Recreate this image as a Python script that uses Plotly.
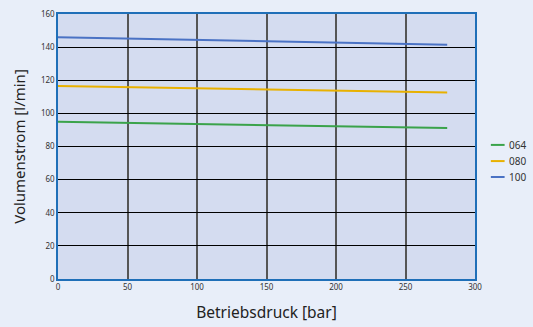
import plotly.graph_objects as go

pressure = [0, 50, 100, 150, 200, 250, 280]
flow_064 = [95.0, 94.3, 93.6, 92.9, 92.2, 91.5, 91.1]
flow_080 = [116.5, 115.8, 115.1, 114.4, 113.7, 113.0, 112.6]
flow_100 = [146.0, 145.2, 144.4, 143.6, 142.8, 142.0, 141.5]
series_names = ["064", "080", "100"]
colors = ["#3aa34a", "#e8b100", "#4a72c4"]

fig = go.Figure()
for name, ys, c in zip(series_names, [flow_064, flow_080, flow_100], colors):
    fig.add_trace(go.Scatter(x=pressure, y=ys, mode="lines", name=name,
                             line=dict(color=c, width=2), showlegend=False))

# custom compact legend
legend_y = [0.506, 0.445, 0.385]
for name, c, ly in zip(series_names, colors, legend_y):
    fig.add_shape(type="line", xref="paper", yref="paper",
                  x0=1.038, x1=1.071, y0=ly, y1=ly,
                  line=dict(color=c, width=2))
    fig.add_annotation(xref="paper", yref="paper", x=1.077, y=ly,
                       xanchor="left", yanchor="middle", text=name,
                       showarrow=False, font=dict(size=10, color="#333"))

fig.update_layout(
    width=533, height=327,
    margin=dict(l=58, r=58, t=14, b=48, autoexpand=False),
    paper_bgcolor="#e8eef9",
    plot_bgcolor="#d4dcf0",
    font=dict(family="Noto Sans, DejaVu Sans, sans-serif", color="#222"),
    showlegend=False,
)
fig.update_xaxes(
    range=[0, 300], tickvals=[0, 50, 100, 150, 200, 250, 300],
    showgrid=True, gridcolor="#555555", gridwidth=1.5,
    showline=True, linecolor="#1f6fb8", linewidth=1.5, mirror=True,
    zeroline=False, ticks="", tickfont=dict(size=8, color="#333"),
    title=dict(text="Betriebsdruck [bar]", font=dict(size=15.5, color="#222"), standoff=16),
)
fig.update_yaxes(
    range=[0, 160], tickvals=list(range(0, 161, 20)),
    showgrid=True, gridcolor="black", gridwidth=1,
    showline=True, linecolor="#1f6fb8", linewidth=1.5, mirror=True,
    zeroline=False, ticks="", tickfont=dict(size=8, color="#333"),
    title=dict(text="Volumenstrom [l/min]", font=dict(size=15, color="#222"), standoff=12),
)

fig.write_html("out.html", config={"displayModeBar": False},
               post_script="document.body.style.margin='0';document.body.style.background='#e8eef9';")
